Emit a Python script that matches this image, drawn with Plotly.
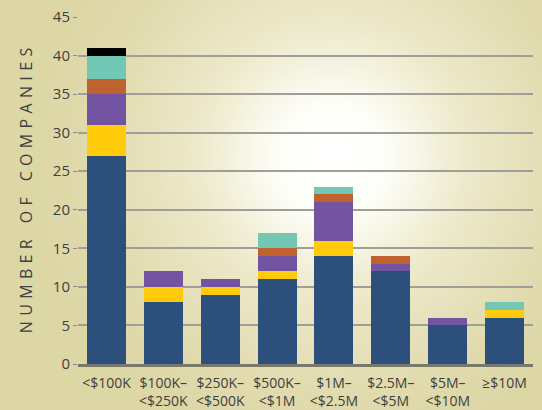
import base64
import plotly.graph_objects as go

categories = ["<$100K", "$100K–\n<$250K", "$250K–\n<$500K", "$500K–\n<$1M",
              "$1M–\n<$2.5M", "$2.5M–\n<$5M", "$5M–\n<$10M", "≥$10M"]

series_blue = [27, 8, 9, 11, 14, 12, 5, 6]
series_yellow = [4, 2, 1, 1, 2, 0, 0, 1]
series_purple = [4, 2, 1, 2, 5, 1, 1, 0]
series_orange = [2, 0, 0, 1, 1, 1, 0, 0]
series_teal = [3, 0, 0, 2, 1, 0, 0, 1]
series_black = [1, 0, 0, 0, 0, 0, 0, 0]

y_ticks = [0, 5, 10, 15, 20, 25, 30, 35, 40, 45]
y_title = "NUMBER OF COMPANIES"

series = [
    ("Series 1", series_blue, "#2C4F7B"),
    ("Series 2", series_yellow, "#FFCB0A"),
    ("Series 3", series_purple, "#7354A2"),
    ("Series 4", series_orange, "#BF6230"),
    ("Series 5", series_teal, "#73C8B5"),
    ("Series 6", series_black, "#000000"),
]

def label(c):
    return c.replace("<", "&lt;").replace("\n", "<br>")

fig = go.Figure()
for name, vals, col in series:
    fig.add_trace(go.Bar(x=categories, y=vals, name=name, marker_color=col,
                         marker_line_width=0))

# radial background
W, H = 542, 410
svg = f'''<svg xmlns="http://www.w3.org/2000/svg" width="{W}" height="{H}">
<defs><radialGradient id="g" gradientUnits="userSpaceOnUse" cx="332" cy="160" r="300">
<stop offset="0" stop-color="#FFFFFF"/>
<stop offset="0.18" stop-color="#FEFEF9"/>
<stop offset="0.45" stop-color="#EDE9CA"/>
<stop offset="0.8" stop-color="#E0DAAD"/>
<stop offset="1" stop-color="#DDD7A6"/>
</radialGradient></defs>
<rect width="{W}" height="{H}" fill="url(#g)"/></svg>'''
src = "data:image/svg+xml;base64," + base64.b64encode(svg.encode()).decode()

L, R, T, B = 78, 9, 17, 46
pw, ph = W - L - R, H - T - B
fig.add_layout_image(dict(source=src, xref="paper", yref="paper",
                          x=-L / pw, y=1 + T / ph, sizex=W / pw, sizey=H / ph,
                          xanchor="left", yanchor="top", sizing="stretch",
                          layer="below"))

sp = "\u2004"
spaced = " ".join(sp.join(list(w)) for w in y_title.split(" "))
spaced = spaced.replace(" ", sp * 3)

fig.update_layout(
    width=W, height=H, barmode="stack", bargap=0.315,
    margin=dict(l=L, r=R, t=T, b=B, autoexpand=False),
    paper_bgcolor="#DDD7A6", plot_bgcolor="rgba(0,0,0,0)",
    showlegend=False,
    font=dict(family="Open Sans, Noto Sans, sans-serif", color="#404040", size=14),
    xaxis=dict(tickmode="array", tickvals=categories,
               ticktext=[label(c) for c in categories], automargin=False,
               showline=True, linecolor="#7A7868", linewidth=2.5,
               ticks="outside", ticklen=4, tickcolor="rgba(0,0,0,0)",
               showgrid=False, tickfont=dict(size=14, color="#404040")),
    yaxis=dict(range=[0, 45], tickvals=y_ticks, showgrid=True, automargin=False,
               gridcolor="#A09E98", gridwidth=1.5, zeroline=False,
               ticks="outside", ticklen=4, tickcolor="#8A8A80", tickwidth=1,
               tickfont=dict(size=15, color="#404040"),
               title=dict(text=spaced, font=dict(size=16, color="#404040"),
                          standoff=16)),
)

fig.write_html("out.html", config={"displayModeBar": False},
               post_script="document.body.style.margin='0';document.body.style.overflow='hidden';")
